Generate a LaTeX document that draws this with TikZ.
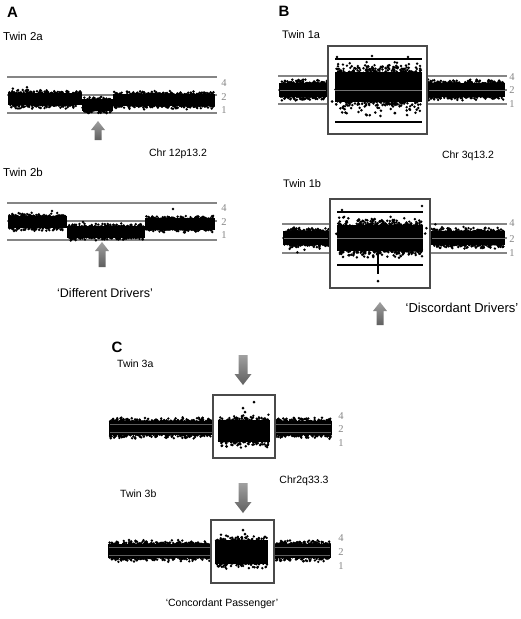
\documentclass[tikz,border=0pt]{standalone}
\usepackage{fontspec}
\setmainfont{Liberation Sans}
\newfontfamily\numfont{Liberation Serif}
\definecolor{lvl}{HTML}{858585}
\definecolor{boxc}{HTML}{4A4A4A}
\definecolor{arrc}{HTML}{777777}
\newcommand\band[5]{%
  \fill (#1,{#3-0.72*#4}) rectangle (#2,{#3+0.72*#4});
  \foreach \i in {1,...,#5}{%
    \pgfmathsetmacro\px{#1+1+(#2-#1-2)*rnd}%
    \pgfmathsetmacro\py{#3+(rand>0 ? 1 : -1)*#4*(0.62+0.5*rnd*rnd)}%
    \fill (\px,\py) circle[radius=1.35pt];
  }}
\newcommand\scat[5]{% x1 x2 y1 y2 N : uniform outliers
  \foreach \i in {1,...,#5}{%
    \pgfmathsetmacro\px{#1+(#2-#1)*rnd}%
    \pgfmathsetmacro\py{#3+(#4-#3)*rnd}%
    \fill (\px,\py) circle[radius=1.4pt];
  }}
\newcommand\uparr[3]{% x, tip, base
  \shade[top color=arrc!70,bottom color=arrc!80!black] (#1-3.5,#3) -- (#1-3.5,#2+9) -- (#1-7,#2+9) -- (#1,#2) -- (#1+7,#2+9) -- (#1+3.5,#2+9) -- (#1+3.5,#3) -- cycle;}
\newcommand\downarr[3]{% x, tip, base
  \shade[top color=arrc!70,bottom color=arrc!80!black] (#1-4.5,#3) -- (#1-4.5,#2-11) -- (#1-8.5,#2-11) -- (#1,#2) -- (#1+8.5,#2-11) -- (#1+4.5,#2-11) -- (#1+4.5,#3) -- cycle;}
\begin{document}
\begin{tikzpicture}[x=1pt,y=-1pt,
  lbl/.style={font=\fontsize{10.5}{12}\selectfont,inner sep=0pt},
  panel/.style={font=\fontsize{15}{16}\selectfont\bfseries,inner sep=0pt},
  num/.style={font=\numfont\fontsize{10.5}{11}\selectfont,text=lvl,inner sep=0pt},
  lvline/.style={draw=lvl,line width=1.1pt},
  midline/.style={draw=lvl!85!black,line width=0.6pt},
  frame/.style={draw=boxc,line width=2.4pt},
  inline/.style={line width=2.2pt}]
\useasboundingbox (0,0) rectangle (520,619);
\pgfmathsetseed{7}

% ---------------- Panel A ----------------
\node[panel] (pA) at (12.5,12) {A};
\node[lbl,anchor=west,font=\fontsize{11.5}{12}\selectfont] (t2a) at (3,36) {Twin 2a};
\draw[lvline] (7,77) -- (217,77);
\draw[lvline] (7,95) -- (217,95);
\draw[lvline] (7,113) -- (217,113);
\band{8}{82}{99}{9}{200}
\band{82}{113}{105}{8}{90}
\band{113}{215}{100}{8.5}{270}
\scat{10}{210}{86}{110}{12}
\node[num] (a4) at (224,83) {4};
\node[num] (a2) at (224,97) {2};
\node[num] (a1) at (224,110) {1};
\uparr{98}{121}{140}
\node[lbl] (chrA) at (178,154) {Chr 12p13.2};

\node[lbl,anchor=west,font=\fontsize{11.5}{12}\selectfont] (t2b) at (3,172.5) {Twin 2b};
\draw[lvline] (7,203) -- (217,203);
\draw[lvline] (7,221) -- (217,221);
\draw[lvline] (7,240) -- (217,240);
\band{8}{67}{222}{8.5}{160}
\band{67}{145}{232}{8}{200}
\band{145}{215}{224}{8}{180}
\fill (52,211) circle[radius=1.4pt] (173,209) circle[radius=1.4pt] (83,222) circle[radius=1.4pt] (14,231) circle[radius=1.4pt];
\node[num] (b4) at (224,208) {4};
\node[num] (b2) at (224,222) {2};
\node[num] (b1) at (224,235) {1};
\uparr{102}{242}{267}
\node[lbl,font=\fontsize{12.5}{13}\selectfont] (dd) at (105,293) {‘Different Drivers’};

% ---------------- Panel B ----------------
\node[panel] (pB) at (284,11.5) {B};
\node[lbl,anchor=west,font=\fontsize{11}{12}\selectfont] (t1a) at (282,35) {Twin 1a};
\foreach \yy in {76,90,104}{
  \draw[lvline] (278,\yy) -- (328,\yy);
  \draw[lvline] (427,\yy) -- (507,\yy);}
\band{279}{328}{90}{10}{150}
\band{427}{505}{90}{10}{230}
\scat{280}{504}{77}{103}{14}
\draw[midline] (280,90) -- (326,90) (429,90) -- (505,90);
\draw[inline] (335,59) -- (422,59);
\draw[inline] (335,122) -- (422,122);
\band{335}{422}{87}{21}{360}
\scat{336}{421}{62}{71}{30}
\scat{336}{421}{103}{116}{30}
\draw[midline] (335,90) -- (422,90);
\fill (337,57) circle[radius=1.4pt] (372,56) circle[radius=1.4pt] (408,57) circle[radius=1.4pt];
\draw[frame] (328,46) rectangle (427,134);
\node[num] (c4) at (512,77) {4};
\node[num] (c2) at (512,90) {2};
\node[num] (c1) at (512,104) {1};
\node[lbl] (chrB) at (468,156) {Chr 3q13.2};

\node[lbl,anchor=west,font=\fontsize{11}{12}\selectfont] (t1b) at (283,184) {Twin 1b};
\foreach \yy in {224,238,253}{
  \draw[lvline] (282,\yy) -- (330,\yy);
  \draw[lvline] (430,\yy) -- (507,\yy);}
\band{283}{330}{238}{10}{150}
\band{430}{505}{238}{10}{230}
\scat{284}{504}{223}{254}{16}
\draw[midline] (284,238) -- (328,238) (432,238) -- (505,238);
\draw[inline] (337,212) -- (423,212);
\draw[inline] (337,265) -- (423,265);
\band{337}{423}{238}{18}{360}
\scat{338}{422}{216}{226}{30}
\scat{338}{422}{250}{258}{25}
\draw[midline] (337,238) -- (423,238);
\draw[line width=2.2pt] (378,250) -- (378,274);
\fill (378,281) circle[radius=1.5pt] (342,210) circle[radius=1.4pt] (422,206) circle[radius=1.4pt];
\draw[frame] (330,199) rectangle (430,288);
\node[num] (d4) at (512,223) {4};
\node[num] (d2) at (512,239) {2};
\node[num] (d1) at (512,253) {1};
\uparr{380}{302}{325}
\node[lbl,font=\fontsize{13}{14}\selectfont] (dis) at (462,308) {‘Discordant Drivers’};

% ---------------- Panel C ----------------
\node[panel] (pC) at (117,347.5) {C};
\node[lbl,anchor=west] (t3a) at (117,363.5) {Twin 3a};
\downarr{243}{385}{355}
\band{109}{213}{428}{10}{330}
\band{275}{332}{428}{10}{190}
\band{218}{270}{431}{15}{200}
\draw[draw=lvl!70!black,line width=0.4pt] (110,424) -- (212,424) (276,424) -- (331,424) (110,432) -- (212,432) (276,432) -- (331,432);
\fill (254,402) circle[radius=1.5pt] (243,408) circle[radius=1.5pt] (245,412) circle[radius=1.5pt] (242,416) circle[radius=1.5pt];
\draw[frame,line width=2pt] (213,395) rectangle (275,458);
\node[num] (e4) at (341,416) {4};
\node[num] (e2) at (341,429) {2};
\node[num] (e1) at (341,443) {1};
\node[lbl] (chrC) at (304,481) {Chr2q33.3};

\node[lbl,anchor=west] (t3b) at (120,493.5) {Twin 3b};
\downarr{243}{513}{483}
\band{108}{211}{551}{10}{330}
\band{274}{331}{551}{10}{190}
\band{215}{268}{552}{16}{200}
\draw[draw=lvl!70!black,line width=0.4pt] (109,547) -- (210,547) (275,547) -- (330,547) (109,555) -- (210,555) (275,555) -- (330,555);
\fill (243,530) circle[radius=1.5pt] (245,534) circle[radius=1.5pt];
\draw[frame,line width=2pt] (211,520) rectangle (274,583);
\node[num] (f4) at (341,538) {4};
\node[num] (f2) at (341,552) {2};
\node[num] (f1) at (341,566) {1};
\node[lbl] (cp) at (222,604) {‘Concordant Passenger’};
\end{tikzpicture}
\end{document}
